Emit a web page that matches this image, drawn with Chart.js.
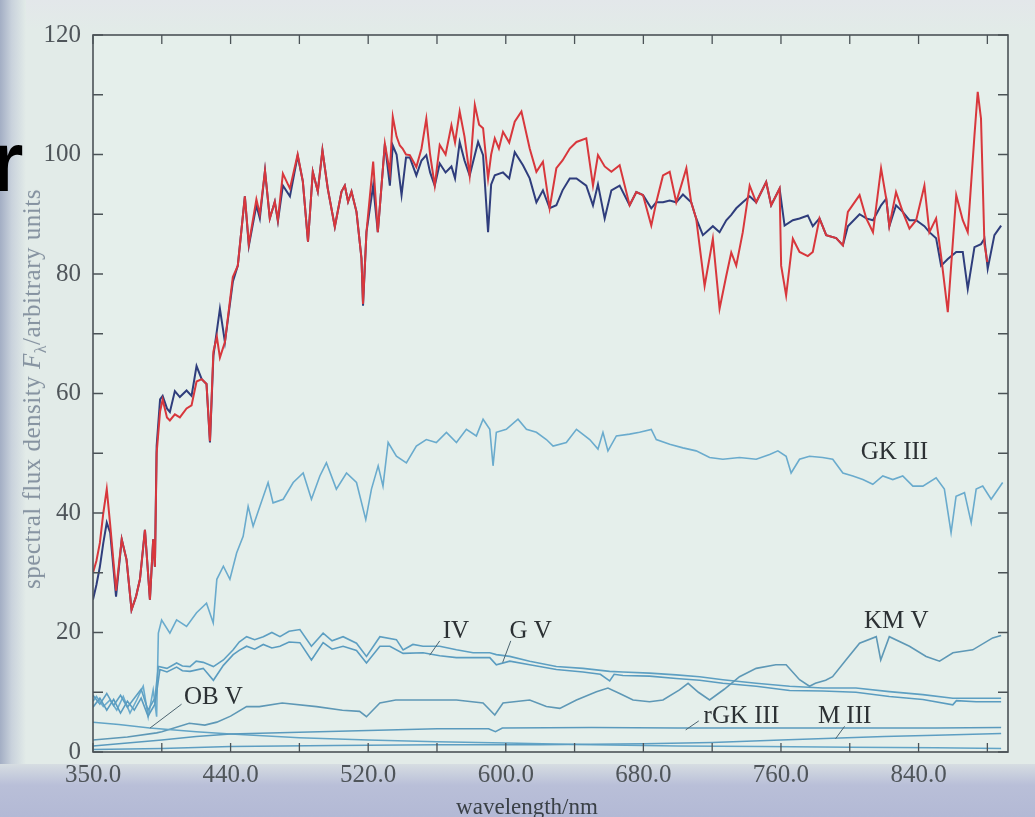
<!DOCTYPE html>
<html>
<head>
<meta charset="utf-8">
<script src="https://cdn.jsdelivr.net/npm/chart.js@4/dist/chart.umd.min.js"></script>
<style>
  html, body { margin: 0; padding: 0; }
  body { width: 1035px; height: 817px; position: relative; overflow: hidden; background: #e2ebe8; }
  #leftband { position: absolute; left: 0; top: 0; width: 26px; height: 817px;
    background: linear-gradient(to right, #a3aec4, #c9d2dc 45%, #e2ebe8); }
  #bottomband { position: absolute; left: 0; top: 764px; width: 1035px; height: 53px;
    background: linear-gradient(to bottom, #d6dde2, #b9bfd8 40%, #b3b9d5); }
  #topband { position: absolute; left: 0; top: 0; width: 1035px; height: 30px;
    background: linear-gradient(to bottom, #e3e7ea, #e2ebe8); }
  canvas { position: absolute; left: 0; top: 0; }
  .ytitle { position: absolute; left: 34px; top: 389px; transform: translate(-50%, -50%) rotate(-90deg);
    white-space: nowrap; font: 25px "Liberation Serif", serif; letter-spacing: 0.5px; color: #8592a0; }
  .xtitle { position: absolute; left: 527px; top: 794px; transform: translateX(-50%);
    white-space: nowrap; font: 23px "Liberation Serif", serif; color: #3a4046; }
  .blob { position: absolute; left: -10px; top: 118px; font: bold 86px "Liberation Sans", Arial, sans-serif;
    line-height: 1; color: #000; }
</style>
</head>
<body>
<div id="topband"></div>
<div id="leftband"></div>
<div id="bottomband"></div>
<div class="blob">r</div>
<canvas id="spectra" width="1035" height="817"></canvas>
<div class="ytitle">spectral flux density <i>F</i><sub style="font-size:16px">λ</sub>/arbitrary units</div>
<div class="xtitle">wavelength/nm</div>
<script>
// axis ticks (the printed axis starts at 360 but its first label reads 350.0)
const xTickValues = [360, 400, 440, 480, 520, 560, 600, 640, 680, 720, 760, 800, 840, 880];
const xTickText = ["350.0", "", "440.0", "", "520.0", "", "600.0", "", "680.0", "", "760.0", "", "840.0", ""];
const yTickValues = [0, 10, 20, 30, 40, 50, 60, 70, 80, 90, 100, 110, 120];

// combined spectrum, blue trace
const blueNm = [360, 362, 364, 366, 368, 370, 373.4, 376.7, 379.5, 382.4, 385, 387.3, 390.2, 393.1, 395, 396, 397, 399, 400.5, 403,
  404.7, 407.6, 410.5, 414.4, 417.3, 420.2, 423.2, 426, 428, 430, 433.8, 436.7, 441.3, 444.2, 448.3, 450.6, 455, 457, 460, 462.8,
  465.7, 467.5, 470.4, 474.5, 479, 482, 485, 487.8, 490.7, 493.4, 496.5, 500.6, 504.5, 506.4, 508.3, 510.3, 513.2, 516.1, 517, 519,
  522.9, 525.6, 529.7, 532.6, 534.3, 536.5, 539.4, 542, 544.2, 548, 551, 553.8, 556, 558.7, 561.6, 565, 568.4, 570.5, 573.2, 576,
  579, 583.9, 586.8, 589.7, 591.5, 593.6, 598.4, 602, 605.2, 610, 613.9, 617.8, 621.6, 625.5, 629.4, 633, 637.2, 641.1, 646.8, 650.7,
  653.6, 657.5, 661.4, 666.2, 672, 675.9, 679.8, 684.6, 687.5, 691.4, 695.3, 699.1, 703, 707.8, 710.7, 714.6, 720.4, 724.3, 728.2, 731.1,
  734, 737.8, 741.8, 745.6, 751.4, 754.3, 759.2, 762.1, 766.9, 770.8, 775.6, 778.5, 782.4, 786.3, 792.1, 796, 798.9, 805.7, 809.6, 813.5,
  818.2, 821.2, 823, 826.9, 830.8, 834.7, 838.6, 843.4, 846.3, 850.2, 853.1, 857, 861.9, 865.7, 868.6, 872.5, 876.3, 878.3, 880.2, 884.1, 888];
const blueFlux = [25.5, 28, 31, 35, 38.4, 36.7, 26, 35.6, 32.2, 23.8, 26, 28.9, 37.2, 25.5, 35.6, 31, 51.2, 59, 59.6, 57.5,
  56.9, 60.4, 59.4, 60.5, 59.6, 64.6, 62.4, 61.6, 51.8, 66.3, 74.2, 68.6, 78.7, 81.4, 93, 84.7, 91.5, 89.3, 97.3, 89.3,
  92.1, 88.8, 94.8, 93, 99.8, 95.5, 85.4, 97.1, 93.8, 100.7, 94.3, 87.9, 93.8, 94.8, 92.1, 93.8, 90.4, 82.6, 74.7, 87,
  94.8, 87, 101.8, 94.8, 101.5, 100, 93.2, 99.5, 99.5, 96.5, 99, 99.9, 97, 94.8, 98.5, 97, 98, 96, 102.1, 99,
  96.5, 102.1, 99.9, 87, 95, 96.5, 97, 96, 100.4, 98.2, 96, 92, 94, 91, 91.5, 94, 96, 96, 94.8, 91.5,
  95, 89.3, 94, 94.8, 91.5, 93.7, 93.2, 91, 92, 92, 92.3, 92, 93.3, 92, 89.3, 86.5, 88, 87, 89, 89.9,
  91, 92, 93, 92, 95.4, 91.5, 94.3, 88.1, 89, 89.3, 89.8, 88, 89.3, 86.5, 86, 84.8, 88, 90, 89.3, 89,
  91.5, 92.6, 88, 91.5, 90.4, 89, 89, 88, 87, 86, 81.4, 82.5, 83.7, 83.7, 77.5, 84.5, 85, 85.9, 80.9, 86.5, 88.1];

// combined spectrum, red trace
const redNm = [360, 362, 364, 366, 368, 370, 373.4, 376.7, 379.5, 382.4, 385, 387.3, 390.2, 393.1, 395, 396, 397, 399, 400.5, 403,
  404.7, 407.6, 410.5, 414.4, 417.3, 420.2, 423.2, 426, 428, 430, 432, 433.8, 436.7, 441.3, 444.2, 448.3, 450.6, 455, 457, 460,
  462.8, 465.7, 467.5, 470.4, 474.5, 479, 482, 485, 487.8, 490.7, 493.4, 496.5, 500.6, 504.5, 506.4, 508.3, 510.3, 513.2, 516.1, 517,
  519, 522.9, 525.6, 529.7, 532.6, 534.3, 536.5, 538.4, 540, 542, 544.2, 548, 551, 553.8, 556, 558.7, 561.6, 565, 568.4, 570.5,
  573.2, 576, 579, 582, 584.5, 586.8, 589.7, 591.5, 593.6, 596, 598.4, 602, 605.2, 609.1, 613.9, 617.8, 621.6, 625.5, 629.4, 633,
  637.2, 641.1, 646.8, 650.7, 653.6, 657.5, 661.4, 666.2, 672, 675.9, 679.8, 684.6, 687.5, 691.4, 695.3, 699.1, 705, 707.8, 710.7, 713,
  715.6, 720.4, 724.3, 728.2, 731.1, 734, 737.8, 741.8, 745.6, 751.4, 754.3, 759.2, 760.1, 763, 766.9, 770.8, 775.6, 778.5, 782.4, 786.3,
  792.1, 796, 798.9, 805.7, 809.6, 813.5, 818.2, 821.2, 823, 826.9, 830.8, 834.7, 838.6, 843.4, 846.3, 850.2, 853.1, 857, 861.9, 865.7,
  868.6, 872.5, 874.4, 876.3, 878.3, 880];
const redFlux = [30, 32, 35, 40, 44, 38, 27, 35.6, 32.2, 23.8, 26, 28.9, 37.2, 25.5, 35.6, 31, 50, 57, 59, 56,
  55.5, 56.5, 56, 57.5, 58, 62, 62.4, 61.6, 52, 67, 69.5, 66, 68.6, 79.5, 81.4, 93, 85, 92.5, 90, 97.3,
  89.3, 92.1, 89, 96.8, 94.3, 100, 95.5, 85.4, 97.1, 93.8, 100.7, 94.3, 87.9, 93.8, 94.8, 92.1, 93.8, 90.4, 82.6, 75,
  87, 98.8, 87, 101.8, 97, 106.3, 103, 101.5, 101, 100, 99.9, 97.9, 101, 106, 100, 94.8, 101.6, 100, 104.9, 102,
  107.2, 103, 96.5, 108.3, 105, 104.4, 96, 100, 102.7, 101, 103.8, 102, 105.5, 107.2, 101, 97.1, 98.8, 91, 97.7, 99,
  101, 102.1, 102.7, 94.8, 99.9, 98, 97.1, 98.2, 91.5, 93.7, 93.2, 88.1, 92, 96.5, 97.1, 92, 97.7, 92, 89.3, 84,
  78, 85.9, 74.2, 79.7, 83.6, 81.4, 87, 94.8, 92, 95.4, 91.5, 94.3, 81.4, 76.4, 85.9, 83.7, 83, 83.7, 89.3, 86.5,
  86, 84.8, 90.4, 93.2, 89.3, 87, 97.7, 92.6, 88, 93.7, 90.4, 87.6, 89, 94.8, 87, 89.3, 83, 73.6, 93.2, 89,
  87, 103.2, 110.5, 106, 85, 82];

// GK III
const gkNm = [360, 362, 366, 369.9, 373.8, 377.6, 381.5, 385.4, 389.2, 392.1, 395, 397, 398, 399.9, 404.7, 408.6, 414.4, 420.2, 426, 429.9,
  432, 435.8, 439.6, 443.5, 447.3, 450.2, 453.1, 457, 461.8, 464.7, 470.6, 476.4, 482.2, 487, 491.9, 495.7, 501.5, 507.4, 513.2, 518.6,
  521.9, 525.8, 528.6, 531.6, 536.4, 542.2, 548, 553.8, 559.6, 565.5, 571.3, 577.1, 582.9, 586.8, 590.7, 592.6, 594.5, 600.3, 607.1, 612,
  617.8, 623.6, 627.5, 635.2, 641.1, 648.8, 653.6, 656.5, 659.4, 664.3, 672, 677.8, 684.6, 687.5, 695.3, 703, 710.7, 718.5, 726.2, 735.9,
  745.6, 753.4, 758.2, 763, 765.9, 770.8, 776.6, 784.2, 790.1, 796, 801.8, 807.6, 813.4, 819.2, 825, 830.8, 836.7, 842.5, 850.2, 855,
  858.9, 861.8, 866.7, 870.6, 873.5, 877.3, 882.2, 888.9];
const gkFlux = [8.5, 9.3, 7.6, 8.7, 7, 9.3, 6.5, 8.7, 11, 5.9, 10.4, 5.9, 19.9, 22.1, 19.9, 22.1, 21, 23.3, 24.9, 21.6,
  28.9, 31.1, 28.9, 33.3, 36.1, 41.1, 37.8, 41.1, 45.1, 41.7, 42.3, 45.1, 46.7, 42.3, 46.2, 48.4, 44, 46.7, 45.1, 38.9,
  44, 47.9, 44.5, 51.8, 49.5, 48.4, 51.2, 52.3, 51.8, 53.5, 51.8, 54, 52.9, 55.7, 54, 47.9, 53.5, 54, 55.7, 54,
  53.5, 52.3, 51.2, 51.8, 54, 52.3, 50.7, 53.5, 50.4, 52.9, 53.2, 53.5, 54, 52.3, 51.5, 50.9, 50.4, 49.3, 49, 49.3,
  49, 49.8, 50.4, 49.5, 46.7, 49, 49.5, 49.3, 49, 46.7, 46.2, 45.6, 44.8, 46.2, 45.6, 46.2, 44.5, 44.5, 45.9, 44,
  36.7, 42.8, 43.4, 38.4, 44, 44.5, 42.3, 45.1];

// IV
const ivNm = [360, 364, 368, 372, 376, 380, 384, 388, 392, 396, 398, 403, 408.6, 412, 416.4, 420, 424.1, 430, 435.8, 441.5,
  445, 449.3, 454, 459, 464, 468.7, 474, 480.3, 487, 493.8, 499, 505.4, 513.2, 519, 526.8, 536.4, 540.3, 546, 551.9, 561.6,
  571.3, 581, 590.7, 594.5, 602.3, 613.9, 629.4, 644.9, 660.4, 668.1, 683.6, 699.1, 712.7, 726.2, 745.6, 765, 784.2, 803.6, 823, 842.5,
  859.9, 873.5, 888];
const ivFlux = [9.5, 8, 9.8, 7.8, 9.5, 7.5, 9, 10.5, 7, 9, 14.3, 14, 14.9, 14.4, 14.3, 15.2, 15, 14.3, 15.4, 17.1,
  18.4, 19.3, 18.8, 19.3, 20, 19.3, 20.2, 20.5, 17.7, 19.9, 18.6, 19.3, 18.2, 16, 19.3, 18.8, 17.1, 18, 17.7, 17.7,
  17.1, 16.6, 16.6, 16.3, 16, 15.2, 14.3, 14, 13.5, 13.4, 13.2, 12.9, 12.6, 12.1, 11.5, 11, 10.7, 10.7, 10.1, 9.6,
  9, 9, 9];

// G V
const gvNm = [360, 364, 368, 372, 376, 380, 384, 388, 392, 396, 398.9, 403, 408.6, 412, 416.4, 424.1, 430, 435.8, 441.5, 445,
  449.3, 454, 459, 464, 468.7, 474, 480.3, 487, 493.8, 499, 505.4, 513.2, 519, 526.8, 532.6, 540.3, 551.9, 561.6, 571.3, 581,
  590.7, 594.5, 602.3, 613.9, 629.4, 644.9, 655, 660.4, 663, 668.1, 683.6, 699.1, 712.7, 726.2, 745.6, 765, 784.2, 803.6, 823, 842.5,
  859.9, 862, 873.5, 888];
const gvFlux = [7.5, 9, 7, 8.8, 6.5, 8.5, 7, 9, 6, 8, 13.8, 13.4, 14.2, 13.6, 13.5, 14, 12, 14.5, 16.3, 17,
  17.7, 17.2, 18, 17.4, 17.7, 18.4, 18.3, 15.4, 18.3, 17.2, 17.7, 17, 14.9, 17.7, 17.7, 16.5, 16.6, 16.1, 15.8, 15.8,
  15.8, 14.6, 15.2, 14.6, 13.8, 13.4, 13, 11.9, 13, 12.8, 12.7, 12.3, 12, 11.5, 11, 10.3, 10.2, 10, 9.3, 8.8,
  7.9, 8.6, 8.4, 8.4];

// KM V
const kmNm = [360, 380, 397, 400, 416, 425, 432, 440, 449.3, 456.7, 470, 490, 505, 515, 519, 526.8, 536, 551.9, 571.3, 586.8,
  593.6, 598.4, 613.9, 623.6, 631.4, 641.1, 652.7, 659.4, 666.2, 674, 683.6, 691.4, 701, 706, 712, 718.5, 727, 735.9, 745.6, 757,
  763, 770.8, 776.6, 780, 786, 790, 798, 805.7, 815.4, 818, 823, 834.7, 844.4, 852.2, 860, 871.5, 883.1, 888];
const kmFlux = [2, 2.5, 3.2, 3.4, 4.8, 4.5, 5, 6, 7.6, 7.6, 8.2, 7.6, 7, 6.8, 5.9, 8.2, 8.7, 8.7, 8.7, 8.2,
  6.2, 8.2, 8.7, 7.6, 7.3, 8.7, 10.1, 10.7, 9.8, 8.7, 8.4, 8.7, 10.4, 11.5, 10, 8.7, 10.5, 12.6, 14, 14.6,
  14.6, 12.1, 11, 11.5, 12, 12.6, 15.5, 18.2, 19.3, 15.4, 19.3, 17.7, 16, 15.2, 16.6, 17.1, 19.1, 19.5];

// OB V, rGK III, M III
const obNm = [360, 375, 393, 420, 440, 480, 520, 560, 600, 650, 700, 750, 800, 850, 888];
const obFlux = [5, 4.6, 4, 3.4, 3, 2.4, 2, 1.7, 1.5, 1.2, 1, 0.9, 0.8, 0.7, 0.6];
const rgkNm = [360, 380, 400, 420, 440, 480, 520, 560, 590, 594, 598, 650, 700, 750, 800, 850, 888];
const rgkFlux = [1, 1.5, 2, 2.6, 3, 3.3, 3.6, 3.9, 3.9, 3.4, 4, 4.1, 4, 4, 4, 4, 4.1];
const mNm = [360, 400, 440, 500, 560, 620, 680, 720, 760, 790, 820, 850, 888];
const mFlux = [0.4, 0.6, 0.9, 1.1, 1.2, 1.2, 1.4, 1.6, 2, 2.3, 2.6, 2.8, 3.1];

// curve labels: [text, nm, flux] and leader lines [nm1, flux1, nm2, flux2]
const labelText = ["GK III", "IV", "G V", "KM V", "OB V", "rGK III", "M III"];
const labelNm = [826, 571, 614.5, 827, 430, 737, 797];
const labelFlux = [50.2, 20.1, 20.1, 21.8, 9.1, 5.9, 5.9];
const leaders = [
  [411.5, 8.0, 393.1, 4.0],
  [561.6, 18.6, 555.8, 16.2],
  [602.9, 18.6, 598.2, 15.0],
  [712.2, 5.2, 704.6, 3.7],
  [797, 4.3, 791.7, 2.2]
];

const pts = (xs, ys) => xs.map((x, i) => ({ x: x, y: ys[i] }));
const line = (data, color, width) => ({
  data: data, borderColor: color, borderWidth: width, pointRadius: 0, tension: 0, fill: false
});

const frame = {
  id: "frame",
  beforeDraw(chart) {
    const { ctx, chartArea: a } = chart;
    ctx.save();
    ctx.fillStyle = "#e5efeb";
    ctx.fillRect(a.left, a.top, a.right - a.left, a.bottom - a.top);
    ctx.restore();
  },
  afterDraw(chart) {
    const { ctx, chartArea: a, scales: { x, y } } = chart;
    ctx.save();
    ctx.strokeStyle = "#4b5357";
    ctx.lineWidth = 1.6;
    ctx.strokeRect(a.left, a.top, a.right - a.left, a.bottom - a.top);
    ctx.lineWidth = 1.3;
    ctx.beginPath();
    xTickValues.forEach(v => {
      const px = x.getPixelForValue(v);
      ctx.moveTo(px, a.bottom); ctx.lineTo(px, a.bottom - 9);
      ctx.moveTo(px, a.top); ctx.lineTo(px, a.top + 9);
    });
    yTickValues.forEach(v => {
      const py = y.getPixelForValue(v);
      ctx.moveTo(a.left, py); ctx.lineTo(a.left + 10, py);
      ctx.moveTo(a.right, py); ctx.lineTo(a.right - 10, py);
    });
    ctx.stroke();

    // leader lines
    ctx.strokeStyle = "#4c6470";
    ctx.lineWidth = 1;
    ctx.beginPath();
    leaders.forEach(l => {
      ctx.moveTo(x.getPixelForValue(l[0]), y.getPixelForValue(l[1]));
      ctx.lineTo(x.getPixelForValue(l[2]), y.getPixelForValue(l[3]));
    });
    ctx.stroke();

    ctx.fillStyle = "#2c3134";
    ctx.font = '25px "Liberation Serif", serif';
    ctx.textAlign = "center";
    ctx.textBaseline = "middle";
    labelText.forEach((t, i) => {
      ctx.fillText(t, x.getPixelForValue(labelNm[i]), y.getPixelForValue(labelFlux[i]));
    });
    ctx.restore();
  }
};

new Chart(document.getElementById("spectra"), {
  type: "line",
  data: {
    datasets: [
      line(pts(mNm, mFlux), "#5d9ec2", 1.5),
      line(pts(rgkNm, rgkFlux), "#5a9abd", 1.5),
      line(pts(obNm, obFlux), "#62a4c6", 1.5),
      line(pts(kmNm, kmFlux), "#5e98b6", 1.6),
      line(pts(gvNm, gvFlux), "#5a9cc0", 1.6),
      line(pts(ivNm, ivFlux), "#5d9fc2", 1.6),
      line(pts(gkNm, gkFlux), "#6aabcd", 1.6),
      line(pts(redNm, redFlux), "#d8373c", 2),
      line(pts(blueNm, blueFlux), "#2f3d7c", 2)
    ]
  },
  options: {
    responsive: false,
    devicePixelRatio: 1,
    animation: false,
    events: [],
    layout: { padding: { top: 35, right: 27, left: 0, bottom: 0 } },
    plugins: { legend: { display: false }, tooltip: { enabled: false } },
    scales: {
      x: {
        type: "linear",
        min: 360,
        max: 892,
        afterFit(s) { s.height = 65; },
        afterBuildTicks(s) { s.ticks = xTickValues.map(v => ({ value: v })); },
        grid: { display: false, drawTicks: false },
        border: { display: false },
        ticks: {
          autoSkip: false, maxRotation: 0, padding: 8,
          color: "#4f555a",
          font: { family: "Liberation Serif", size: 25 },
          callback: v => xTickText[xTickValues.indexOf(v)] || ""
        }
      },
      y: {
        min: 0,
        max: 120,
        afterFit(s) { s.width = 93; },
        afterBuildTicks(s) { s.ticks = yTickValues.map(v => ({ value: v })); },
        grid: { display: false, drawTicks: false },
        border: { display: false },
        ticks: {
          autoSkip: false, padding: 12,
          color: "#4f555a",
          font: { family: "Liberation Serif", size: 25 },
          callback: v => (v % 20 === 0 ? String(v) : "")
        }
      }
    }
  },
  plugins: [frame]
});
</script>
</body>
</html>
